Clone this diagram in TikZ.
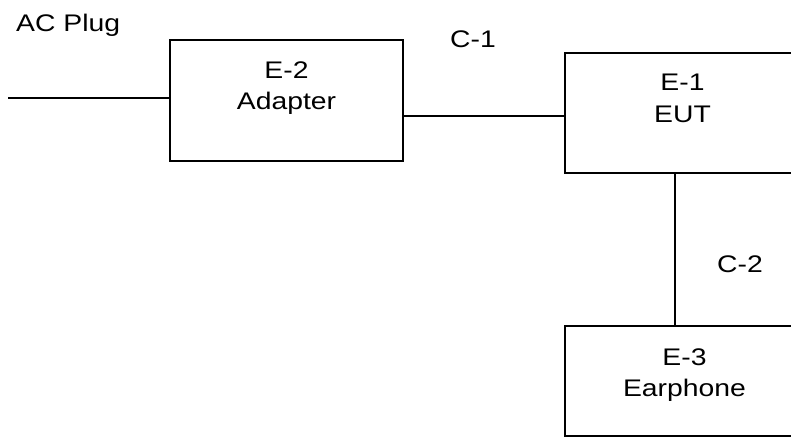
\documentclass[tikz,border=0pt]{standalone}
\usepackage{fontspec}
\setmainfont{Liberation Sans}[FakeStretch=1.18]
\usepackage{tikz}
\usetikzlibrary{positioning}

\begin{document}
\begin{tikzpicture}[
    x=1pt, y=-1pt,
    node distance=22pt,
    unit/.style={rectangle, draw=black, line width=1.6pt, minimum height=121pt, inner sep=0pt},
    unittext/.style={align=center, inner sep=0pt, font=\fontsize{24}{31.5}\selectfont},
    tag/.style={inner sep=0pt, font=\fontsize{24}{31.5}\selectfont},
    wire/.style={line width=1.6pt}
]
\useasboundingbox (0,0) rectangle (791,446);

% Nodes placed at pixel coordinates
\node [unit, minimum width=233pt] (adapter) at (286.5,100.5) {};
\node [unit, minimum width=235pt, minimum height=120pt] (eut) at (682.5,113) {};
\node [unit, minimum width=235pt, minimum height=110pt] (earphone) at (682.5,381) {};

\node [unittext, below=of adapter.north] (adaptertxt) {E-2\\Adapter};
\node [unittext, below=of eut.north] (euttxt) {E-1\\EUT};
\node [unittext, below=23pt of earphone.north, xshift=2pt] (earphonetxt) {E-3\\Earphone};

\node [tag, anchor=base west] (acplug) at (16,32) {AC Plug};
\node [tag, anchor=base] (c1) at (473,48) {C-1};
\node [tag, anchor=base] (c2) at (740,272) {C-2};
\coordinate (plug) at (8,98);

% Lines
\draw [wire] (plug) -- (plug -| adapter.west);
\draw [wire] ([yshift=-15.5pt]adapter.east) -- ([yshift=-15.5pt]adapter.east -| eut.west);
\draw [wire] ([xshift=-7.5pt]eut.south) -- ([xshift=-7.5pt]earphone.north);

\end{tikzpicture}
\end{document}
